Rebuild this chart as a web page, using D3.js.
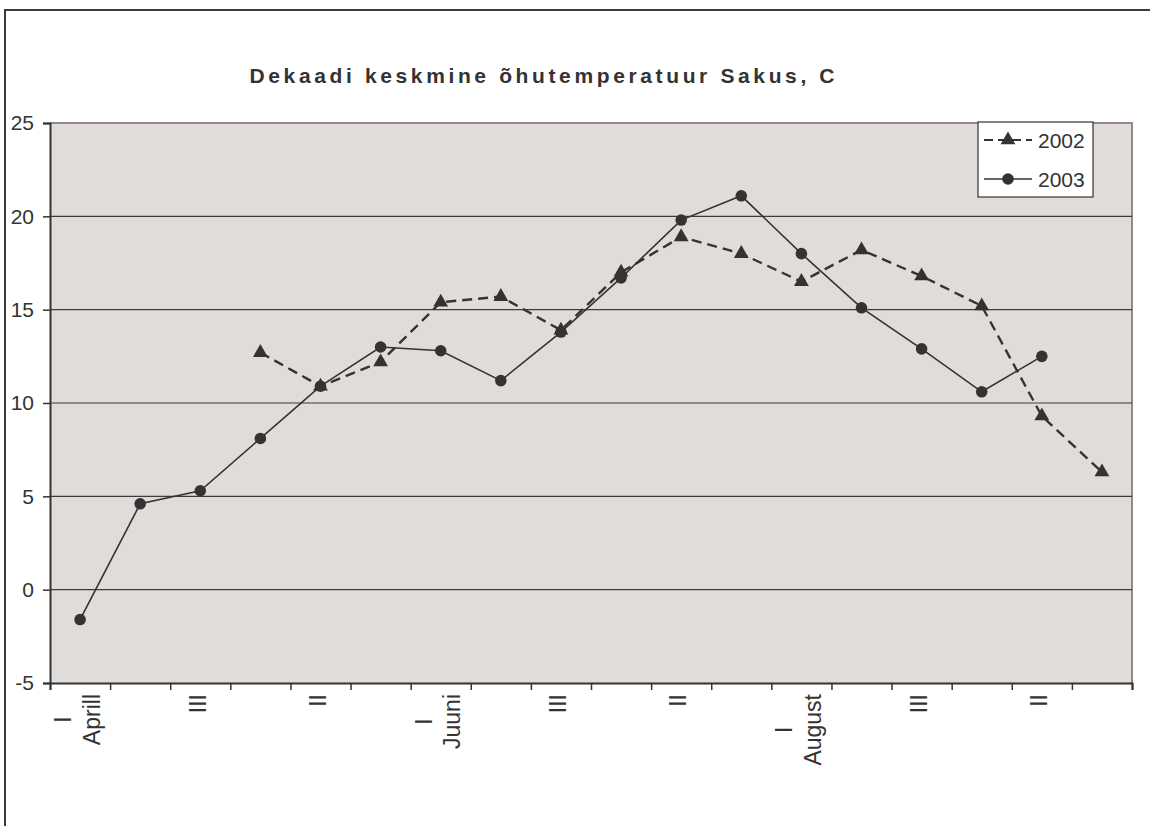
<!DOCTYPE html>
<html>
<head>
<meta charset="utf-8">
<script src="https://cdn.jsdelivr.net/npm/d3@7"></script>
<style>
  html, body { margin: 0; padding: 0; background: #fff; }
  svg { display: block; font-family: "Liberation Sans", Arial, sans-serif; }
</style>
</head>
<body>
<svg id="chart" width="1150" height="826"></svg>
<script>
// Ten-day (decade) periods from April to September, lines of each label
const decades = [
  ["I", "Aprill"], ["II"], ["III"],
  ["I", "Mai"], ["II"], ["III"],
  ["I", "Juuni"], ["II"], ["III"],
  ["I", "Juuli"], ["II"], ["III"],
  ["I", "August"], ["II"], ["III"],
  ["I", "September"], ["II"], ["III"]
];

// Mean air temperature per decade, °C (null = no measurement)
const temps2002 = [null, null, null, 12.7, 10.9, 12.2, 15.4, 15.7, 13.9, 17.0, 18.9, 18.0, 16.5, 18.2, 16.8, 15.2, 9.3, 6.3];
const temps2003 = [-1.6, 4.6, 5.3, 8.1, 10.9, 13.0, 12.8, 11.2, 13.8, 16.7, 19.8, 21.1, 18.0, 15.1, 12.9, 10.6, 12.5, null];

const seriesNames = ["2002", "2003"];
const yTicks = [-5, 0, 5, 10, 15, 20, 25];
const chartTitle = "Dekaadi keskmine õhutemperatuur Sakus, C";

const ink = "#333333";
const svg = d3.select("#chart");

const plot = { left: 50, right: 1132, top: 123, bottom: 683 };

// Outer chart frame (runs past the right and bottom edges)
svg.append("rect")
  .attr("x", 5).attr("y", 10)
  .attr("width", 1200).attr("height", 900)
  .attr("fill", "#fff")
  .attr("stroke", "#3a3a3a")
  .attr("stroke-width", 2);

// Title, spread out as in the spreadsheet rendering
svg.append("text")
  .attr("x", 542).attr("y", 83)
  .attr("text-anchor", "middle")
  .attr("font-size", 21)
  .attr("font-weight", "bold")
  .attr("fill", ink)
  .attr("textLength", 585)
  .attr("lengthAdjust", "spacing")
  .text(chartTitle);

const x = d3.scaleBand()
  .domain(d3.range(decades.length))
  .range([plot.left, plot.right])
  .padding(0);
const xEdge = d3.scaleLinear()
  .domain([0, decades.length])
  .range([plot.left, plot.right]);
const y = d3.scaleLinear()
  .domain([d3.min(yTicks), d3.max(yTicks)])
  .range([plot.bottom, plot.top]);
const cx = i => x(i) + x.bandwidth() / 2;

// Plot background
svg.append("rect")
  .attr("x", plot.left).attr("y", plot.top)
  .attr("width", plot.right - plot.left)
  .attr("height", plot.bottom - plot.top)
  .attr("fill", "#e0dcd9");

// Top and right edges of the plot area
svg.append("path")
  .attr("d", `M${plot.left},${plot.top}H${plot.right}V${plot.bottom}`)
  .attr("fill", "none")
  .attr("stroke", "#938985")
  .attr("stroke-width", 2);

// Horizontal gridlines
svg.append("g")
  .selectAll("line")
  .data(yTicks.filter(t => t > d3.min(yTicks) && t < d3.max(yTicks)))
  .join("line")
  .attr("x1", plot.left).attr("x2", plot.right)
  .attr("y1", d => y(d)).attr("y2", d => y(d))
  .attr("stroke", "#3c3c3c")
  .attr("stroke-width", 1.2);

// Y axis (plain hyphen for negative values)
const yAxis = svg.append("g")
  .attr("transform", `translate(${plot.left},0)`)
  .call(d3.axisLeft(y).tickValues(yTicks).tickSize(7).tickPadding(9).tickFormat(d => String(d)));
yAxis.select(".domain").attr("stroke", ink).attr("stroke-width", 2);
yAxis.selectAll(".tick line").attr("stroke", ink).attr("stroke-width", 1.5);
yAxis.selectAll(".tick text")
  .attr("font-size", 21)
  .attr("font-family", "Liberation Sans, Arial, sans-serif")
  .attr("fill", ink);

// X axis: ticks on decade boundaries
const xAxis = svg.append("g")
  .attr("transform", `translate(0,${plot.bottom})`)
  .call(d3.axisBottom(xEdge).tickValues(d3.range(decades.length + 1)).tickSize(7).tickFormat(""));
xAxis.select(".domain").attr("stroke", ink).attr("stroke-width", 2);
xAxis.selectAll(".tick line").attr("stroke", ink).attr("stroke-width", 1.5);

// Rotated category labels, every second decade
const labelSize = 23, lineGap = 29, labelTop = 694;
const labels = svg.append("g")
  .selectAll("g")
  .data(decades.map((d, i) => ({ lines: d, i })).filter(d => d.i % 2 === 0))
  .join("g");
labels.each(function (d) {
  const g = d3.select(this);
  const n = d.lines.length;
  const texts = d.lines.map((line, k) =>
    g.append("text")
      .attr("text-anchor", "middle")
      .attr("font-size", labelSize)
      .attr("fill", ink)
      .attr("transform", "rotate(-90)")
      .attr("x", 0)
      .attr("y", (k - (n - 1) / 2) * lineGap + labelSize * 0.36)
      .text(line));
  const len = d3.max(texts, t => t.node().getComputedTextLength());
  g.attr("transform", `translate(${cx(d.i) - 3},${labelTop + len / 2})`);
});

// Series lines
const line = d3.line()
  .defined(d => d.v !== null)
  .x(d => cx(d.i))
  .y(d => y(d.v));
const pts = arr => arr.map((v, i) => ({ v, i }));

svg.append("path")
  .datum(pts(temps2002))
  .attr("d", line)
  .attr("fill", "none")
  .attr("stroke", ink)
  .attr("stroke-width", 2.4)
  .attr("stroke-dasharray", "10,6");

svg.append("path")
  .datum(pts(temps2003))
  .attr("d", line)
  .attr("fill", "none")
  .attr("stroke", ink)
  .attr("stroke-width", 1.6);

// Markers
const tri = d3.symbol().type(d3.symbolTriangle).size(95);
svg.append("g")
  .selectAll("path")
  .data(pts(temps2002).filter(d => d.v !== null))
  .join("path")
  .attr("d", tri)
  .attr("transform", d => `translate(${cx(d.i)},${y(d.v)})`)
  .attr("fill", ink);

svg.append("g")
  .selectAll("circle")
  .data(pts(temps2003).filter(d => d.v !== null))
  .join("circle")
  .attr("cx", d => cx(d.i))
  .attr("cy", d => y(d.v))
  .attr("r", 5.8)
  .attr("fill", ink);

// Legend
const legend = svg.append("g");
legend.append("rect")
  .attr("x", 978).attr("y", 122)
  .attr("width", 115).attr("height", 75)
  .attr("fill", "#fff")
  .attr("stroke", ink)
  .attr("stroke-width", 1.2);
const rows = [
  { name: seriesNames[0], y: 140, dash: "9,5", w: 2, marker: "tri" },
  { name: seriesNames[1], y: 179, dash: null, w: 1.6, marker: "circle" }
];
rows.forEach(r => {
  legend.append("line")
    .attr("x1", 984).attr("x2", 1032)
    .attr("y1", r.y).attr("y2", r.y)
    .attr("stroke", ink)
    .attr("stroke-width", r.w)
    .attr("stroke-dasharray", r.dash);
  if (r.marker === "tri") {
    legend.append("path").attr("d", tri)
      .attr("transform", `translate(1008,${r.y})`)
      .attr("fill", ink);
  } else {
    legend.append("circle")
      .attr("cx", 1008).attr("cy", r.y).attr("r", 5.8)
      .attr("fill", ink);
  }
  legend.append("text")
    .attr("x", 1038).attr("y", r.y + 7.5)
    .attr("font-size", 21)
    .attr("fill", ink)
    .text(r.name);
});
</script>
</body>
</html>
